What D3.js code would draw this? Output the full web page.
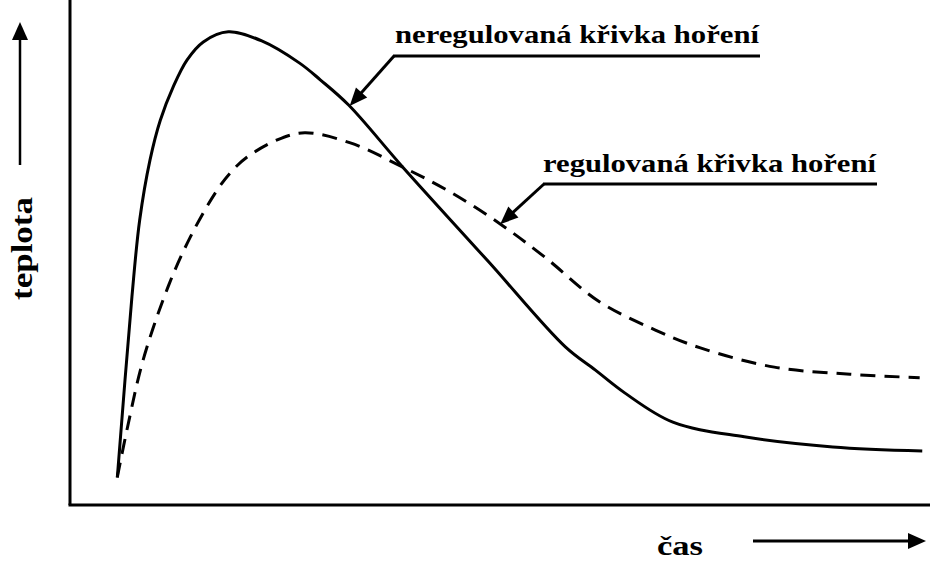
<!DOCTYPE html>
<html><head><meta charset="utf-8">
<script src="https://cdn.jsdelivr.net/npm/d3@7"></script>
<style>html,body{margin:0;padding:0;background:#fff;}svg{display:block;}</style>
</head><body>
<svg id="chart" width="930" height="564"></svg>
<script>
// time (relative units) and temperature (relative units)
const timeSolid = [5.5, 7.2, 8.1, 9.3, 10.5, 12.0, 13.6, 15.5, 18.4, 22.3, 26.7, 29.1, 32.4, 38.7, 48.6, 57.6, 61.1, 64.5, 70.1, 78.4, 88.7, 99.1];
const tempSolid = [5.4, 41.2, 56.4, 68.3, 76.2, 82.8, 88.1, 91.7, 93.7, 91.9, 87.5, 84.2, 79.2, 66.9, 48.3, 31.3, 26.7, 22.2, 16.4, 13.5, 11.5, 10.7];
const timeDashed = [5.5, 6.7, 8.5, 11.4, 14.0, 16.9, 18.6, 20.6, 24.1, 27.3, 32.6, 38.7, 44.2, 49.9, 55.2, 61.6, 68.0, 73.3, 81.9, 90.7, 98.8];
const tempDashed = [5.5, 15.5, 28.7, 43.2, 53.1, 61.8, 65.7, 68.9, 72.3, 73.7, 71.7, 66.9, 62.0, 55.8, 49.1, 40.2, 34.7, 31.1, 27.3, 25.9, 25.2];
const seriesNames = ["neregulovaná křivka hoření", "regulovaná křivka hoření"];
const xAxisLabel = "čas";
const yAxisLabel = "teplota";
// index of the point on each curve that its label's arrow points at
const pointerIndex = [12, 13];

const svg = d3.select("#chart");
const x = d3.scaleLinear().domain([0, 100]).range([70, 930]);
const y = d3.scaleLinear().domain([0, 100]).range([505, 0]);
const FONT = "Liberation Serif";

const solid = timeSolid.map((t, i) => [t, tempSolid[i]]);
const dashed = timeDashed.map((t, i) => [t, tempDashed[i]]);

const line = d3.line().x(d => x(d[0])).y(d => y(d[1])).curve(d3.curveCatmullRom.alpha(0.5));

// axes (no ticks)
svg.append("line").attr("x1", x(0)).attr("x2", x(0)).attr("y1", y(100)).attr("y2", y(0))
  .attr("stroke", "#000").attr("stroke-width", 3);
svg.append("line").attr("x1", x(0) - 1.5).attr("x2", x(100)).attr("y1", y(0)).attr("y2", y(0))
  .attr("stroke", "#000").attr("stroke-width", 3);

// curves
svg.append("path").attr("d", line(solid)).attr("fill", "none").attr("stroke", "#000")
  .attr("stroke-width", 3).attr("stroke-linejoin", "round");
svg.append("path").attr("d", line(dashed)).attr("fill", "none").attr("stroke", "#000")
  .attr("stroke-width", 3).attr("stroke-dasharray", "15,9");

function arrow(x1, y1, x2, y2, w, headLen, headW) {
  const dx = x2 - x1, dy = y2 - y1, L = Math.hypot(dx, dy);
  const ux = dx / L, uy = dy / L;
  const bx = x2 - ux * headLen, by = y2 - uy * headLen;
  svg.append("line").attr("x1", x1).attr("y1", y1).attr("x2", bx + ux * 2).attr("y2", by + uy * 2)
    .attr("stroke", "#000").attr("stroke-width", w);
  const px = -uy * headW / 2, py = ux * headW / 2;
  svg.append("path").attr("d", `M${x2},${y2}L${bx + px},${by + py}L${bx - px},${by - py}Z`).attr("fill", "#000");
}

// axis arrows
arrow(20, 165, 20, 22, 2.5, 18, 16);
arrow(753, 541, 926, 541, 3, 18, 16);

// axis labels
svg.append("text").text(yAxisLabel)
  .attr("transform", "translate(32,300) rotate(-90)")
  .attr("font-family", FONT).attr("font-weight", "bold").attr("font-size", 30)
  .attr("textLength", 103).attr("lengthAdjust", "spacingAndGlyphs");
svg.append("text").text(xAxisLabel).attr("x", 657).attr("y", 555)
  .attr("font-family", FONT).attr("font-weight", "bold").attr("font-size", 28)
  .attr("textLength", 46).attr("lengthAdjust", "spacingAndGlyphs");

// annotations
const ann = [
  { text: seriesNames[0], tx: 395, ty: 43, len: 364, ux1: 393, ux2: 760, uy: 56, pt: solid[pointerIndex[0]] },
  { text: seriesNames[1], tx: 543, ty: 172, len: 333, ux1: 543, ux2: 877, uy: 184, pt: dashed[pointerIndex[1]] }
];
ann.forEach(a => {
  svg.append("text").text(a.text).attr("x", a.tx).attr("y", a.ty)
    .attr("font-family", FONT).attr("font-weight", "bold").attr("font-size", 26)
    .attr("textLength", a.len).attr("lengthAdjust", "spacingAndGlyphs");
  svg.append("line").attr("x1", a.ux1).attr("x2", a.ux2).attr("y1", a.uy).attr("y2", a.uy)
    .attr("stroke", "#000").attr("stroke-width", 3);
  arrow(a.ux1 + 1, a.uy, x(a.pt[0]) + 1, y(a.pt[1]) + 1, 3, 18, 15);
});
</script>
</body></html>
